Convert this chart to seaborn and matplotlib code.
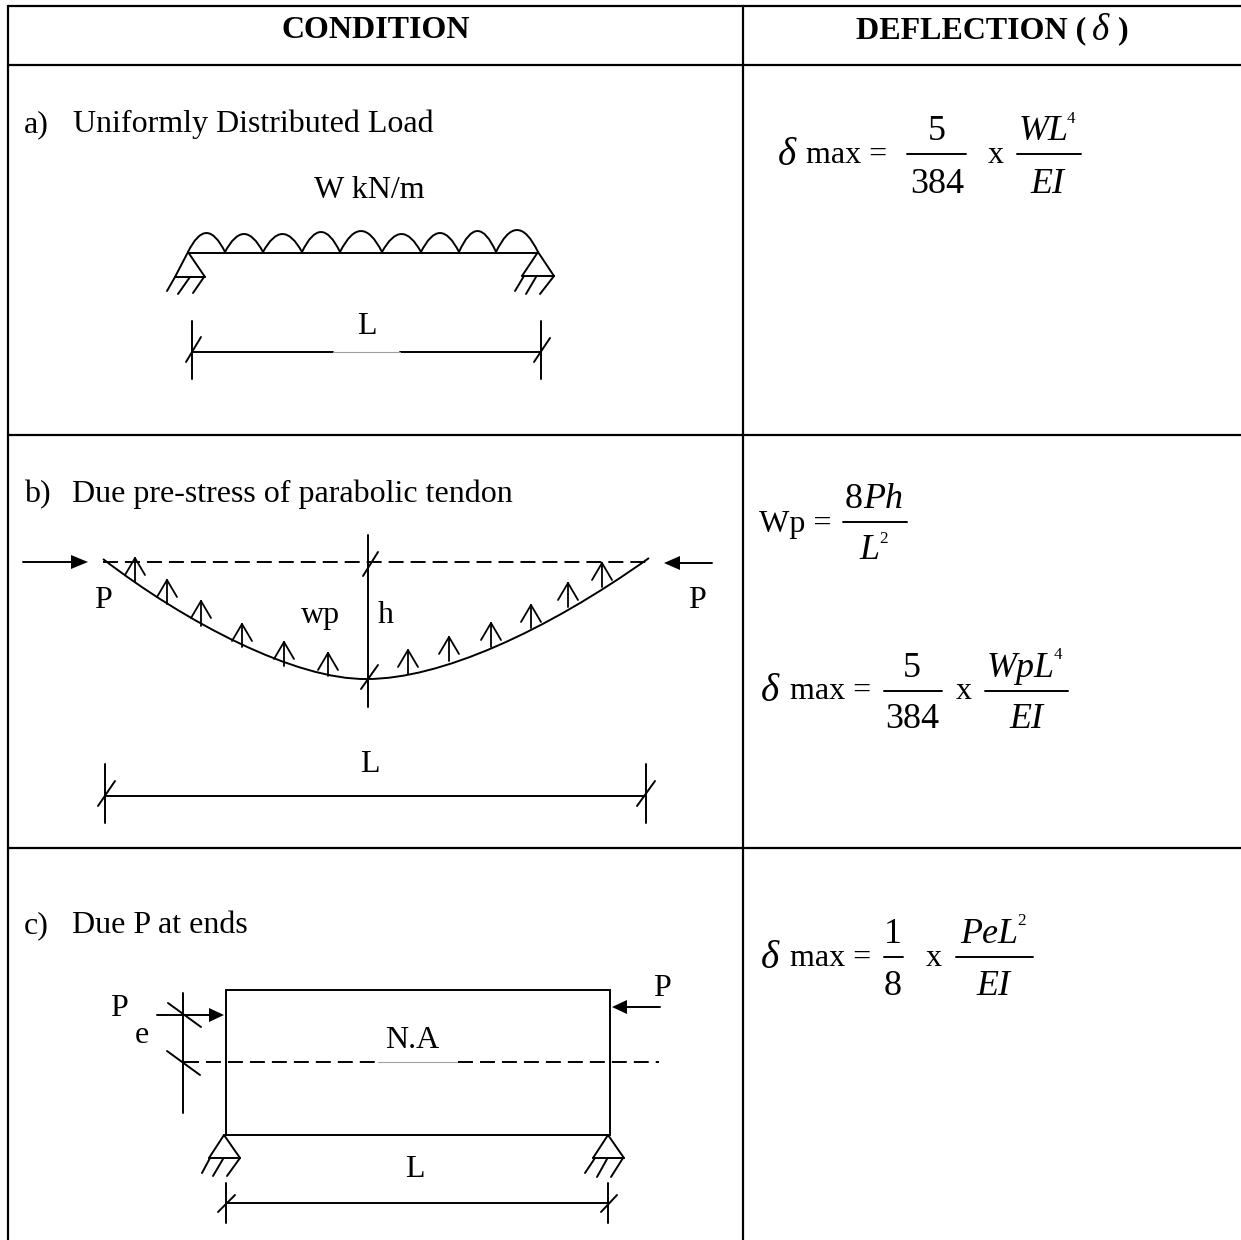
# Imports
import pandas as pd
import seaborn as sns
import matplotlib.pyplot as plt
from matplotlib.path import Path
from matplotlib.patches import PathPatch, Polygon

# -------- DATA --------#
# every position below is read off the reference, in image pixels

table_lines = [
    (8, 6, 1241, 6), (8, 65, 1241, 65), (8, 435, 1241, 435), (8, 848, 1241, 848),
    (8, 6, 8, 1240), (743, 6, 743, 1240),
]

# a) uniformly distributed load
load_x = [188, 225, 263, 302, 340, 382, 421, 459, 496, 538]
load_peak = [233, 234, 234, 232, 231, 234, 233, 231, 230]
load_base = 252

beam_lines = [
    # beam a
    (188, 252.5, 538, 252.5),
    # supports a
    (188, 252, 175, 277), (188, 252, 205, 277), (175, 277, 205, 277),
    (167, 291, 175, 277), (178, 294, 190, 277), (193, 293, 204, 277),
    (538, 252, 522, 276), (538, 252, 554, 276), (522, 276, 554, 276),
    (515, 291, 524, 276), (526, 294, 536, 277), (540, 294, 554, 276),
    # dimension a
    (192, 321, 192, 379), (541, 321, 541, 379), (192, 352, 333, 352), (400, 352, 541, 352),
    (186, 362, 201, 337), (534, 362, 550, 338),
    # centre line and arrows b
    (367.5, 535, 367.5, 707), (363, 576, 378, 552), (361, 689, 378, 665),
    (23, 562, 72, 562), (680, 563, 712, 563),
    # dimension b
    (105, 764, 105, 823), (645.5, 764, 645.5, 823), (105, 796, 645.5, 796),
    (98, 806, 115, 781), (637, 806, 655, 781),
    # block c
    (225.5, 990, 610, 990), (225.5, 990, 225.5, 1135), (610, 990, 610, 1135), (225.5, 1135, 610, 1135),
    (183, 993, 183, 1113), (168, 1003, 201, 1027), (167, 1051, 200, 1075),
    (157, 1015, 210, 1015), (627, 1007, 660, 1007),
    # supports c
    (224, 1135, 209, 1158), (224, 1135, 240, 1158), (209, 1158, 240, 1158),
    (202, 1173, 210, 1158), (213, 1176, 223, 1159), (227, 1176, 240, 1158),
    (608, 1135, 593, 1158), (608, 1135, 624, 1158), (593, 1158, 624, 1158),
    (585, 1173, 595, 1158), (597, 1177, 607, 1159), (611, 1177, 623, 1158),
    # dimension c
    (226, 1183, 226, 1223), (608, 1183, 608, 1223), (226, 1203, 608, 1203),
    (218, 1212, 235, 1195), (601, 1212, 617, 1195),
    # fraction bars
    (907, 154, 966, 154), (1017, 154, 1081, 154),
    (843, 522, 907, 522), (884, 691, 942, 691), (985, 691, 1068, 691),
    (884, 957, 903, 957), (956, 957, 1033, 957),
]

gray_lines = [(333, 352, 400, 352), (378, 1062, 458, 1062)]

dashed_lines = [(103, 562, 649, 562), (184, 1062, 378, 1062), (458, 1062, 659, 1062)]

# tendon: end, handle, handle, bottom, handle, handle, end
tendon_x = [103, 185, 295, 367, 440, 545, 649]
tendon_y = [559, 622, 680, 679, 679, 632, 558]

up_arrow_x = [135, 167, 201, 242, 284, 328, 408, 449, 491, 531, 568, 602]
up_arrow_tip = [558, 580, 601, 624, 642, 653, 650, 637, 623, 605, 583, 563]
up_arrow_base = [582, 604, 626, 647, 666, 676, 674, 661, 647, 628, 607, 587]

solid_heads = [
    (88, 562, 71, 555, 71, 569), (664, 563, 680, 556, 680, 570),
    (224, 1015, 209, 1008, 209, 1022), (612, 1007, 627, 1000, 627, 1014),
]

SERIF = 'Liberation Serif'
BODY = 32
MATH = 36
DELTA = 39
SUP = 17

# text, x, baseline y, size in px, weight, style, ha
labels = [
    ('CONDITION', 376, 38, BODY, 'bold', 'normal', 'center'),
    ('DEFLECTION (', 856, 38, BODY, 'bold', 'normal', 'left'),
    ('δ', 1092, 40, 37, 'normal', 'italic', 'left'),
    (')', 1118, 38, BODY, 'bold', 'normal', 'left'),
    ('a)', 24, 132, BODY, 'normal', 'normal', 'left'),
    ('Uniformly Distributed Load', 73, 132, BODY, 'normal', 'normal', 'left'),
    ('W kN/m', 369, 198, BODY, 'normal', 'normal', 'center'),
    ('L', 367, 334, BODY, 'normal', 'normal', 'center'),
    ('b)', 24, 502, BODY, 'normal', 'normal', 'left'),
    ('Due pre-stress of parabolic tendon', 72, 502, BODY, 'normal', 'normal', 'left'),
    ('P', 103, 608, BODY, 'normal', 'normal', 'center'),
    ('P', 697, 608, BODY, 'normal', 'normal', 'center'),
    ('wp', 321, 623, BODY, 'normal', 'normal', 'center'),
    ('h', 386, 623, BODY, 'normal', 'normal', 'center'),
    ('L', 370, 772, BODY, 'normal', 'normal', 'center'),
    ('c)', 24, 933, BODY, 'normal', 'normal', 'left'),
    ('Due P at ends', 72, 933, BODY, 'normal', 'normal', 'left'),
    ('P', 119, 1016, BODY, 'normal', 'normal', 'center'),
    ('e', 142, 1043, BODY, 'normal', 'normal', 'center'),
    ('P', 662, 996, BODY, 'normal', 'normal', 'center'),
    ('N.A', 412, 1048, BODY, 'normal', 'normal', 'center'),
    ('L', 415, 1177, BODY, 'normal', 'normal', 'center'),
    # formula a
    ('δ', 778, 165, DELTA, 'normal', 'italic', 'left'),
    ('max =', 806, 163, BODY, 'normal', 'normal', 'left'),
    ('5', 937, 140, MATH, 'normal', 'normal', 'center'),
    ('384', 937, 193, MATH, 'normal', 'normal', 'center'),
    ('x', 996, 163, BODY, 'normal', 'normal', 'center'),
    ('WL', 1019, 140, MATH, 'normal', 'italic', 'left'),
    ('4', 1067, 123, SUP, 'normal', 'normal', 'left'),
    ('EI', 1047, 193, MATH, 'normal', 'italic', 'center'),
    # formula b
    ('Wp =', 759, 532, BODY, 'normal', 'normal', 'left'),
    ('8', 845, 508, MATH, 'normal', 'normal', 'left'),
    ('Ph', 863, 508, MATH, 'normal', 'italic', 'left'),
    ('L', 859, 559, MATH, 'normal', 'italic', 'left'),
    ('2', 879, 543, SUP, 'normal', 'normal', 'left'),
    ('δ', 761, 701, DELTA, 'normal', 'italic', 'left'),
    ('max =', 790, 699, BODY, 'normal', 'normal', 'left'),
    ('5', 912, 677, MATH, 'normal', 'normal', 'center'),
    ('384', 912, 728, MATH, 'normal', 'normal', 'center'),
    ('x', 964, 699, BODY, 'normal', 'normal', 'center'),
    ('WpL', 987, 677, MATH, 'normal', 'italic', 'left'),
    ('4', 1054, 659, SUP, 'normal', 'normal', 'left'),
    ('EI', 1026, 728, MATH, 'normal', 'italic', 'center'),
    # formula c
    ('δ', 761, 968, DELTA, 'normal', 'italic', 'left'),
    ('max =', 790, 966, BODY, 'normal', 'normal', 'left'),
    ('1', 893, 943, MATH, 'normal', 'normal', 'center'),
    ('8', 893, 995, MATH, 'normal', 'normal', 'center'),
    ('x', 934, 966, BODY, 'normal', 'normal', 'center'),
    ('PeL', 960, 943, MATH, 'normal', 'italic', 'left'),
    ('2', 1017, 925, SUP, 'normal', 'normal', 'left'),
    ('EI', 993, 995, MATH, 'normal', 'italic', 'center'),
]


# -------- DRAWING --------#

def segments_frame(segments: list) -> pd.DataFrame:
    '''
    One row per segment end, with a seg id for seaborn's units
    '''
    rows = []
    for i, (x0, y0, x1, y1) in enumerate(segments):
        rows.append({'seg': i, 'order': 0, 'x': x0, 'y': y0})
        rows.append({'seg': i, 'order': 1, 'x': x1, 'y': y1})
    return pd.DataFrame(rows)


def plot_segments(ax, segments: list, **style) -> None:
    '''
    '''
    sns.lineplot(data=segments_frame(segments), x='x', y='y', units='seg',
                 estimator=None, sort=False, ax=ax, legend=False, **style)


sns.set_theme(style='white')
plt.rcParams['font.family'] = [SERIF, 'DejaVu Serif']

fig = plt.figure(figsize=(12.41, 12.40), dpi=100, facecolor='white')
ax = fig.add_axes([0, 0, 1, 1])

plot_segments(ax, table_lines, color='black', linewidth=1.6)
plot_segments(ax, beam_lines, color='black', linewidth=1.4)
plot_segments(ax, gray_lines, color='#a0a0a0', linewidth=0.8)
plot_segments(ax, dashed_lines, color='black', linewidth=1.4, dashes=(7.7, 3.6))

# tendon curve
tendon = Path(list(zip(tendon_x, tendon_y)),
              [Path.MOVETO] + [Path.CURVE4] * 6)
ax.add_patch(PathPatch(tendon, facecolor='none', edgecolor='black', linewidth=1.4))

# little arrows on the tendon
arrow_segments = []
for x, tip, base in zip(up_arrow_x, up_arrow_tip, up_arrow_base):
    arrow_segments += [(x, tip, x, base), (x, tip, x - 10, tip + 17), (x, tip, x + 10, tip + 17)]
plot_segments(ax, arrow_segments, color='black', linewidth=1.3)

# load arches
for x0, x1, peak in zip(load_x[:-1], load_x[1:], load_peak):
    control = load_base - 2 * (load_base - peak)
    arch = Path([(x0, load_base), ((x0 + x1) / 2, control), (x1, load_base)],
                [Path.MOVETO, Path.CURVE3, Path.CURVE3])
    ax.add_patch(PathPatch(arch, facecolor='none', edgecolor='black', linewidth=1.4))

for x0, y0, x1, y1, x2, y2 in solid_heads:
    ax.add_patch(Polygon([(x0, y0), (x1, y1), (x2, y2)], closed=True, color='black', linewidth=0))

for text, x, y, size, weight, style, ha in labels:
    ax.text(x, y, text, fontsize=size * 0.72, fontweight=weight, fontstyle=style,
            ha=ha, va='baseline', color='black')

ax.set_xlim(0, 1241)
ax.set_ylim(1240, 0)
ax.axis('off')

fig.savefig('out.png', dpi=100, facecolor='white')
